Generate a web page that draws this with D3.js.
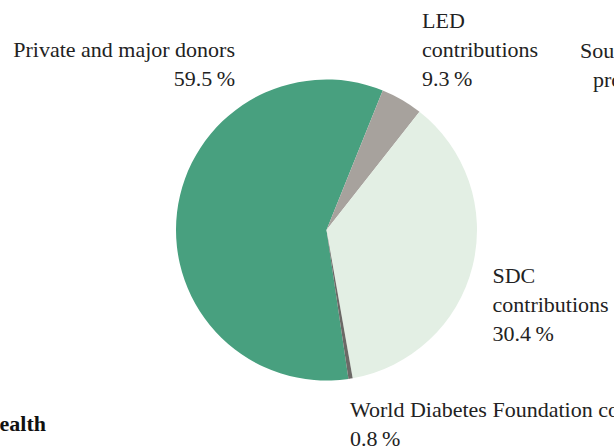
<!DOCTYPE html>
<html>
<head>
<meta charset="utf-8">
<script src="https://cdn.jsdelivr.net/npm/d3@7"></script>
<style>
  html, body { margin: 0; padding: 0; background: #fff; overflow: hidden; }
  svg { display: block; }
  text { font-family: "Liberation Serif", "Times New Roman", serif; fill: #222; }
</style>
</head>
<body>
<svg id="chart" width="614" height="446"></svg>
<script>
// ---- data ----
const categories = ["Private and major donors", "LED contributions", "South Asia programs", "SDC contributions", "World Diabetes Foundation contributions"];
const sliceValues = [58.4, 4.5, 0, 36.6, 0.45];           // slice sizes as drawn
const labelPercents = ["59.5", "9.3", "0.0", "30.4", "0.8"]; // printed percentages
const labelLines = [
  ["Private and major donors"],
  ["LED", "contributions"],
  ["South Asia", "programs"],
  ["SDC", "contributions"],
  ["World Diabetes Foundation contributions"]
];
const titleText = "Global Health";

// ---- layout / style ----
const colors = ["#48a07f", "#a7a29d", "#cfd8cf", "#e3efe4", "#6b6966"];
const labelLayout = [
  { x: 235, y: 57, anchor: "end" },
  { x: 422, y: 28, anchor: "start" },
  { x: 676, y: 58, anchor: "end" },
  { x: 492.5, y: 283, anchor: "start" },
  { x: 350, y: 417, anchor: "start" }
];
const lineH = 29;
const cx = 326.5, cy = 230, radius = 150.5;
const startDeg = 171.6;

const svg = d3.select("#chart");
const data = categories.map((c, i) => ({ name: c, value: sliceValues[i], i }));

const pie = d3.pie().sort(null).value(d => d.value)
  .startAngle(startDeg * Math.PI / 180)
  .endAngle(startDeg * Math.PI / 180 + 2 * Math.PI);
const arc = d3.arc().innerRadius(0).outerRadius(radius);

svg.append("g").attr("transform", `translate(${cx},${cy})`)
  .selectAll("path").data(pie(data)).join("path")
  .attr("d", arc)
  .attr("fill", d => colors[d.data.i]);

const lg = svg.append("g");
data.forEach((d, i) => {
  const L = labelLayout[i];
  const lines = labelLines[i].concat([labelPercents[i] + "\u2009%"]);
  const t = lg.append("text")
    .attr("text-anchor", L.anchor)
    .attr("font-size", 22);
  lines.forEach((ln, k) => {
    t.append("tspan").attr("x", L.x).attr("y", L.y + k * lineH).text(ln);
  });
});

svg.append("text")
  .attr("x", 46).attr("y", 431)
  .attr("text-anchor", "end")
  .attr("font-size", 22)
  .attr("font-weight", "bold")
  .style("fill", "#111")
  .text(titleText);
</script>
</body>
</html>
